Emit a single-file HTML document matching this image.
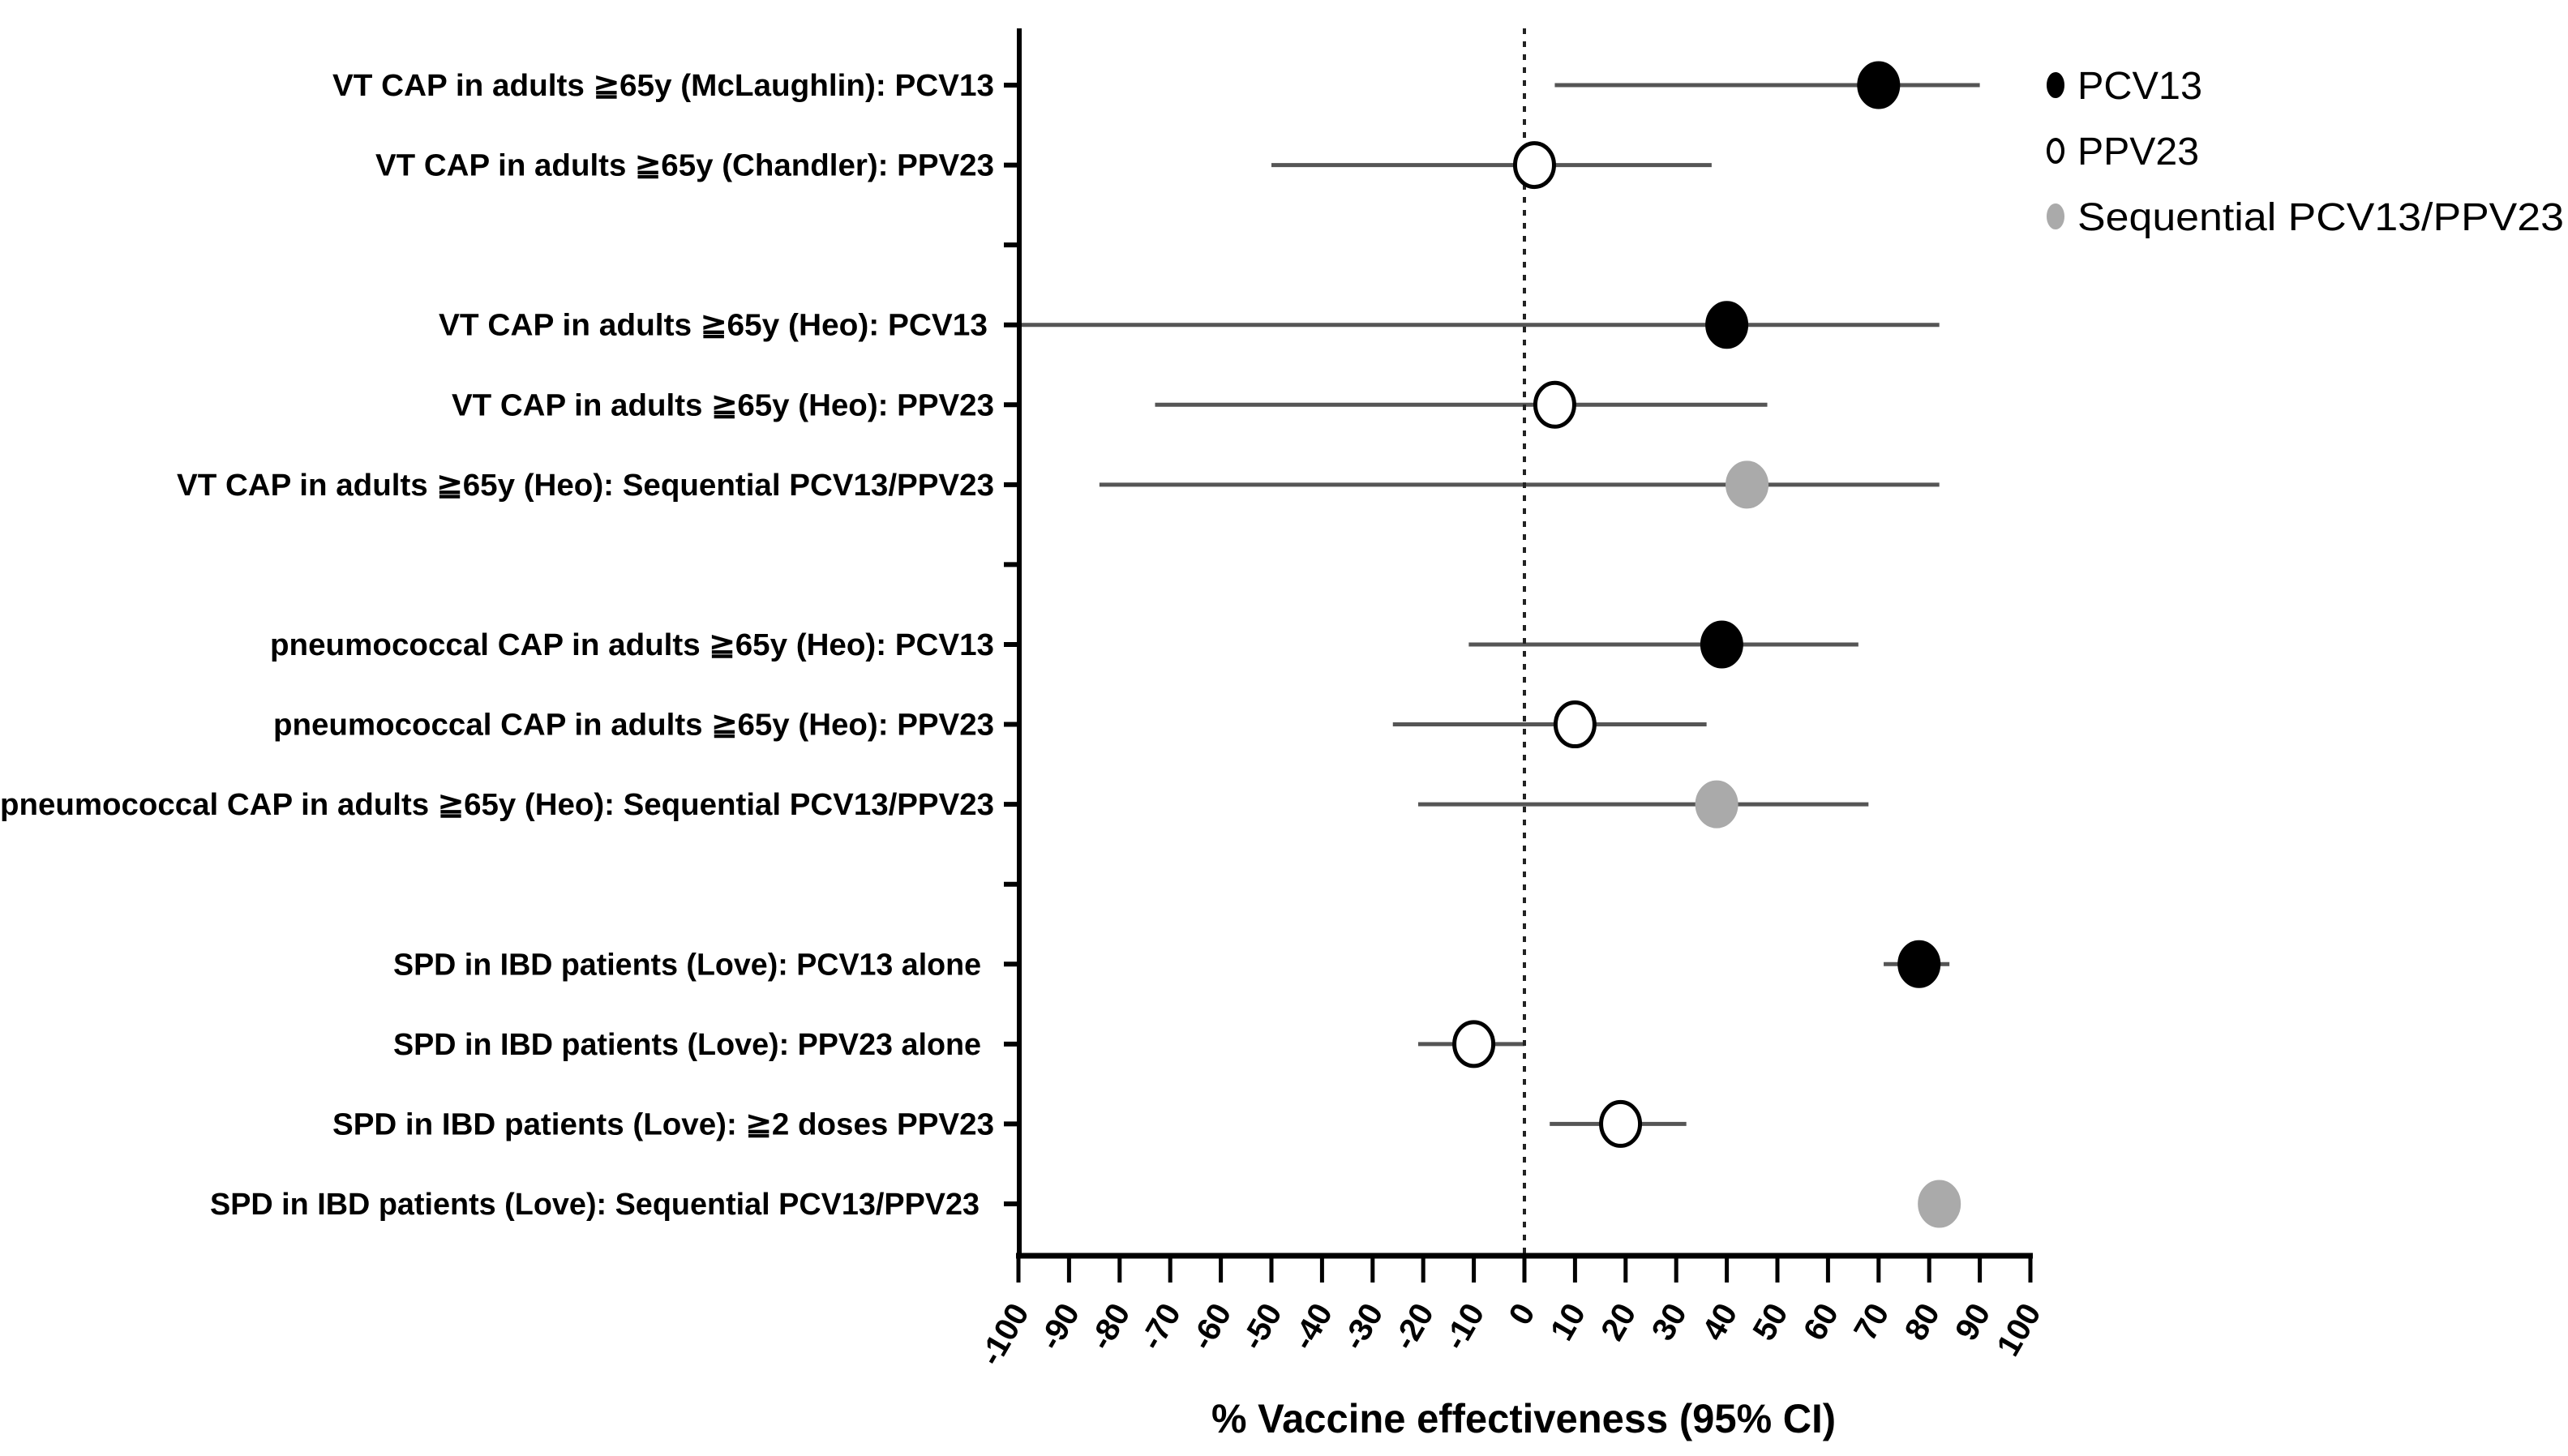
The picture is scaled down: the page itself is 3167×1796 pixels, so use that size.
<!DOCTYPE html>
<html><head><meta charset="utf-8"><style>
html,body{margin:0;padding:0;background:#fff;}
svg{display:block;}
text{font-family:"Liberation Sans",sans-serif;}
</style></head><body>
<svg id="chart" width="3167" height="1796" viewBox="0 0 3167 1796" xmlns="http://www.w3.org/2000/svg">
<rect x="0" y="0" width="3167" height="1796" fill="#fff"/>
<g id="bars"></g>
<g id="axes"></g>
<g id="points"></g>
<g id="labels"></g>
<g id="legend"></g>
</svg>
<script>
const labels = [
 "VT CAP in adults \u226765y (McLaughlin): PCV13",
 "VT CAP in adults \u226765y (Chandler): PPV23",
 "",
 "VT CAP in adults \u226765y (Heo): PCV13",
 "VT CAP in adults \u226765y (Heo): PPV23",
 "VT CAP in adults \u226765y (Heo): Sequential PCV13/PPV23",
 "",
 "pneumococcal CAP in adults \u226765y (Heo): PCV13",
 "pneumococcal CAP in adults \u226765y (Heo): PPV23",
 "pneumococcal CAP in adults \u226765y (Heo): Sequential PCV13/PPV23",
 "",
 "SPD in IBD patients (Love): PCV13 alone",
 "SPD in IBD patients (Love): PPV23 alone",
 "SPD in IBD patients (Love): \u22672 doses PPV23",
 "SPD in IBD patients (Love): Sequential PCV13/PPV23"
];
const estimates = [70, 2, null, 40, 6, 44, null, 39, 10, 38, null, 78, -10, 19, 82];
const lowerCI  = [6, -50, null, -100, -73, -84, null, -11, -26, -21, null, 71, -21, 5, 78];
const upperCI  = [90, 37, null, 82, 48, 82, null, 66, 36, 68, null, 84, 0, 32, 82];
const vaccines = ["PCV13","PPV23",null,"PCV13","PPV23","SEQ",null,"PCV13","PPV23","SEQ",null,"PCV13","PPV23","PPV23","SEQ"];
const xTicks = [-100,-90,-80,-70,-60,-50,-40,-30,-20,-10,0,10,20,30,40,50,60,70,80,90,100];
const legendLabels = ["PCV13","PPV23","Sequential PCV13/PPV23"];
const legendKeys = ["PCV13","PPV23","SEQ"];

const NS="http://www.w3.org/2000/svg";
const X0=1256, X1=2504, AXY=1549, YTOP=35, R0=105, RSTEP=98.57;
const x = v => X0 + (v+100)/200*(X1-X0);
const y = i => R0 + i*RSTEP;
function mk(tag, attrs, parent){const e=document.createElementNS(NS,tag);for(const k in attrs)e.setAttribute(k,attrs[k]);parent.appendChild(e);return e;}
const gA=document.getElementById('axes'),gB=document.getElementById('bars'),gP=document.getElementById('points'),gL=document.getElementById('labels'),gG=document.getElementById('legend');

function marker(cx,cy,key,rx,ry,sw,parent){
  let fill='#000',stroke='#000';
  if(key==='PPV23'){fill='#fff';}
  if(key==='SEQ'){fill='#aaa';stroke='#aaa';}
  return mk('ellipse',{cx:cx,cy:cy,rx:rx,ry:ry,fill:fill,stroke:stroke,'stroke-width':sw},parent);
}

let zl=mk('line',{x1:x(0),y1:YTOP,x2:x(0),y2:AXY,stroke:'#222','stroke-width':4,'stroke-dasharray':'7 9'},gA);


let ya=mk('line',{x1:1257,y1:YTOP,x2:1257,y2:AXY+3,stroke:'#000','stroke-width':6},gA);


let xa=mk('line',{x1:X0-3,y1:AXY,x2:X1+3,y2:AXY,stroke:'#000','stroke-width':7},gA);



xTicks.forEach(t=>{
  let tk=mk('line',{x1:x(t),y1:AXY,x2:x(t),y2:1582,stroke:'#000','stroke-width':5},gA);
  
  
  let tl=mk('text',{x:x(t)+14,y:1618,'text-anchor':'end','font-size':40,'font-weight':'bold',transform:`rotate(-60 ${x(t)+14} 1618)`},gA);
  tl.textContent=String(t);
  
  
});
let xt=mk('text',{x:1879,y:1767,'text-anchor':'middle','font-size':50,'font-weight':'bold',textLength:770,lengthAdjust:'spacingAndGlyphs'},gA);
xt.textContent='% Vaccine effectiveness (95% CI)';



const leftEdges=[410,463,0,541,557,218,0,333,337,0,0,485,485,410,259];
const rightEdges=[1226,1226,0,1218,1226,1226,0,1226,1226,1226,0,1210,1210,1226,1208];
labels.forEach((lab,i)=>{
  let yt=mk('line',{x1:1238,y1:y(i),x2:1257,y2:y(i),stroke:'#000','stroke-width':6},gA);
  
  
  if(lab){
    let t=mk('text',{x:rightEdges[i],y:y(i)+13,'text-anchor':'end','font-size':38,'font-weight':'bold',textLength:rightEdges[i]-leftEdges[i],lengthAdjust:'spacingAndGlyphs'},gL);
    t.textContent=lab;
    
    
  }
  if(estimates[i]!==null){
    let b=mk('line',{x1:x(lowerCI[i]),y1:y(i),x2:x(upperCI[i]),y2:y(i),stroke:'#555','stroke-width':5},gB);
    
    
    let m=marker(x(estimates[i]),y(i),vaccines[i],24,27,5,gP);
    
    
  }
});

legendLabels.forEach((lab,i)=>{
  const ly=105+i*81;
  let m=marker(2535,ly,legendKeys[i],9,14,4,gG);
  
  
  let t=mk('text',{x:2562,y:ly+17,'font-size':48},gG);
  t.textContent=lab;
  if(i===2){t.setAttribute('textLength',600);t.setAttribute('lengthAdjust','spacingAndGlyphs');}
  if(i===0){t.setAttribute('textLength',154);t.setAttribute('lengthAdjust','spacingAndGlyphs');}
  if(i===1){t.setAttribute('textLength',150);t.setAttribute('lengthAdjust','spacingAndGlyphs');}
  
  
});
</script>
</body></html>
